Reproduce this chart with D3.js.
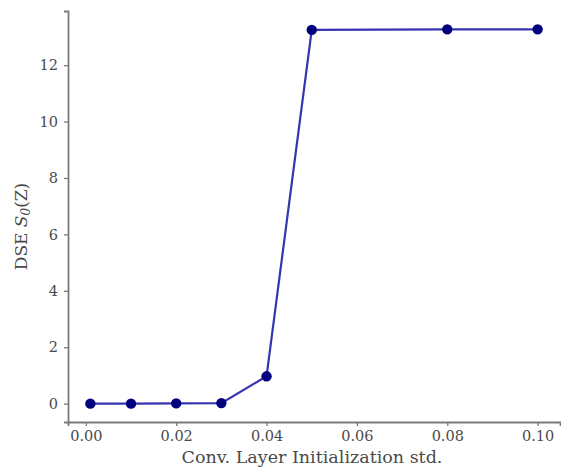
<!DOCTYPE html>
<html><head><meta charset="utf-8">
<script src="https://cdn.jsdelivr.net/npm/d3@7"></script>
<style>body{margin:0;background:#fff}svg{display:block}text{font-family:"DejaVu Serif",serif}</style>
</head><body><svg id="c" width="561" height="468"></svg>
<script>
const stds = [0.001, 0.01, 0.02, 0.03, 0.04, 0.05, 0.08, 0.10];
const dse = [0.0, 0.0, 0.01, 0.02, 0.97, 13.25, 13.27, 13.27];
const xTicks = [0.00, 0.02, 0.04, 0.06, 0.08, 0.10];
const yTicks = [0, 2, 4, 6, 8, 10, 12];

const svg = d3.select("#c");
const L = 68, R = 560, T = 11, B = 422;
const x = d3.scaleLinear().domain([-0.00395, 0.10495]).range([L, R]);
const y = d3.scaleLinear().domain([-0.65, 13.92]).range([B, T]);
const axisCol = "#7a7a7a", textCol = "#4a4a4a";

const gx = svg.append("g").attr("transform", `translate(0,${B})`)
  .call(d3.axisBottom(x).tickValues(xTicks).tickFormat(d3.format(".2f")).tickSizeOuter(0).tickSize(4).tickPadding(5));
const gy = svg.append("g").attr("transform", `translate(${L},0)`)
  .call(d3.axisLeft(y).tickValues(yTicks).tickFormat(d3.format("d")).tickSizeOuter(0).tickSize(4).tickPadding(6));
[gx, gy].forEach(g => {
  g.select(".domain").attr("stroke", axisCol).attr("stroke-width", 1.8);
  g.selectAll(".tick line").attr("stroke", axisCol).attr("stroke-width", 1.3);
  g.selectAll(".tick text").attr("fill", textCol).attr("font-size", 14.5).attr("font-family", "DejaVu Serif");
});

const line = d3.line().x((d, i) => x(stds[i])).y(d => y(d));
svg.append("path").datum(dse).attr("d", line).attr("fill", "none")
  .attr("stroke", "#3535b0").attr("stroke-width", 2.2);
svg.append("g").selectAll("circle").data(dse).join("circle")
  .attr("cx", (d, i) => x(stds[i])).attr("cy", d => y(d)).attr("r", 5.2).attr("fill", "#00007f");

svg.append("text").attr("x", (L + R) / 2 - 2).attr("y", 463).attr("text-anchor", "middle")
  .attr("fill", textCol).attr("font-size", 17.5).text("Conv. Layer Initialization std.");
const yl = svg.append("text").attr("transform", `translate(27,${(T + B) / 2 + 10}) rotate(-90)`)
  .attr("text-anchor", "middle").attr("fill", textCol).attr("font-size", 17);
yl.append("tspan").text("DSE ");
yl.append("tspan").attr("font-style", "italic").text("S");
yl.append("tspan").attr("font-size", 12).attr("dy", 3).attr("font-style", "italic").text("0");
yl.append("tspan").attr("dy", -3).text("(Z)");
</script></body></html>
